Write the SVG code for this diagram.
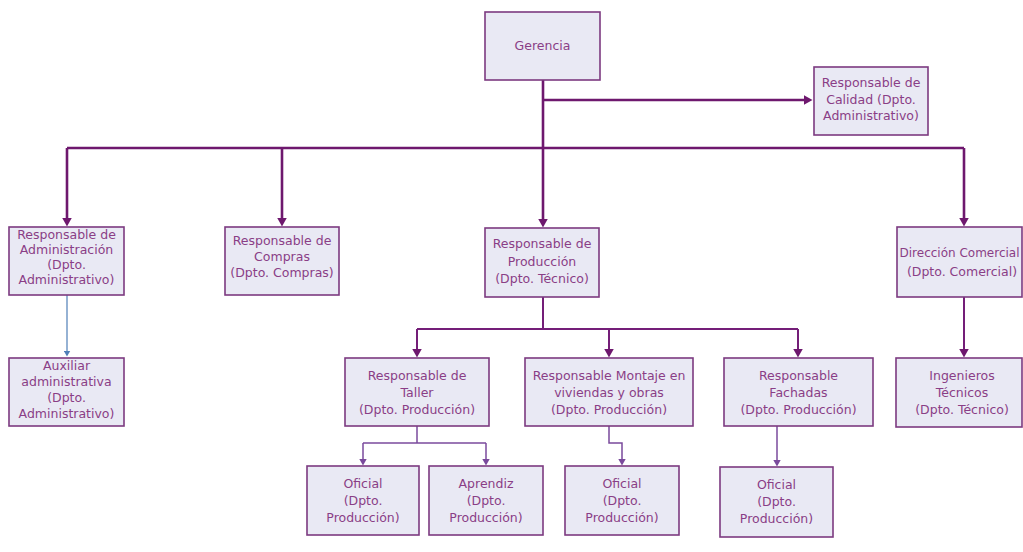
<svg xmlns="http://www.w3.org/2000/svg" width="1023" height="552" viewBox="0 0 1023 552">
  <defs>
    <style>
      .box { fill: #e9e9f4; stroke: #7c3a80; stroke-width: 1.6; }
      .lbl { font-family: "DejaVu Sans", Verdana, sans-serif; font-size: 12.5px; fill: #8a3e86; text-anchor: middle; }
      .c1 { fill: none; stroke: #6e186e; stroke-width: 2.6; }
      .c2 { fill: none; stroke: #741e78; stroke-width: 2; }
      .c3 { fill: none; stroke: #7a4a9c; stroke-width: 1.5; }
      .c4 { fill: none; stroke: #4f7fb8; stroke-width: 1.2; }
    </style>
    <!-- arrowheads: base sits at the path end, tip points forward -->
    <marker id="a1" viewBox="0 0 9 10" refX="0.5" refY="5" markerWidth="9" markerHeight="10" markerUnits="userSpaceOnUse" orient="auto">
      <path d="M0,0 L9,5 L0,10 z" fill="#6e186e"/>
    </marker>
    <marker id="a3" viewBox="0 0 7 8" refX="0.5" refY="4" markerWidth="7" markerHeight="8" markerUnits="userSpaceOnUse" orient="auto">
      <path d="M0,0 L7,4 L0,8 z" fill="#7a4a9c"/>
    </marker>
    <marker id="a4" viewBox="0 0 6 7" refX="0.5" refY="3.5" markerWidth="6" markerHeight="7" markerUnits="userSpaceOnUse" orient="auto">
      <path d="M0,0 L6,3.5 L0,7 z" fill="#4f7fb8"/>
    </marker>
  </defs>

  <rect width="1023" height="552" fill="#ffffff"/>

  <g id="connectors">
    <path class="c1" d="M543,80 V219" marker-end="url(#a1)"/>
    <path class="c1" d="M543,100 H804" marker-end="url(#a1)"/>
    <path class="c1" d="M67,148 H964"/>
    <path class="c1" d="M67,148 V218" marker-end="url(#a1)"/>
    <path class="c1" d="M282,148 V218" marker-end="url(#a1)"/>
    <path class="c1" d="M964,148 V218" marker-end="url(#a1)"/>
    <path class="c2" d="M543,297 V329"/>
    <path class="c2" d="M417,329 H798"/>
    <path class="c2" d="M417,329 V349" marker-end="url(#a1)"/>
    <path class="c2" d="M609,329 V349" marker-end="url(#a1)"/>
    <path class="c2" d="M798,329 V349" marker-end="url(#a1)"/>
    <path class="c2" d="M964,297 V349" marker-end="url(#a1)"/>
    <path class="c4" d="M67,295 V351" marker-end="url(#a4)"/>
    <path class="c3" d="M417,426 V443"/>
    <path class="c3" d="M363,443 H486"/>
    <path class="c3" d="M363,443 V459" marker-end="url(#a3)"/>
    <path class="c3" d="M486,443 V459" marker-end="url(#a3)"/>
    <path class="c3" d="M609,426 V443 H622 V459" marker-end="url(#a3)"/>
    <path class="c3" d="M777,426 V460" marker-end="url(#a3)"/>
  </g>

  <g id="gerencia">
    <rect class="box" x="485" y="12" width="115" height="68"/>
    <text class="lbl" x="542.5" y="50">Gerencia</text>
  </g>

  <g id="calidad">
    <rect class="box" x="814" y="67" width="114" height="68"/>
    <text class="lbl" x="871" y="87">Responsable de</text>
    <text class="lbl" x="871" y="103.5">Calidad (Dpto.</text>
    <text class="lbl" x="871" y="120">Administrativo)</text>
  </g>

  <g id="administracion">
    <rect class="box" x="9" y="227" width="115" height="68"/>
    <text class="lbl" x="66.5" y="238.5">Responsable de</text>
    <text class="lbl" x="66.5" y="253.5">Administración</text>
    <text class="lbl" x="66.5" y="268.5">(Dpto.</text>
    <text class="lbl" x="66.5" y="283.5">Administrativo)</text>
  </g>

  <g id="compras">
    <rect class="box" x="225" y="227" width="114" height="68"/>
    <text class="lbl" x="282" y="245">Responsable de</text>
    <text class="lbl" x="282" y="261">Compras</text>
    <text class="lbl" x="282" y="277">(Dpto. Compras)</text>
  </g>

  <g id="produccion">
    <rect class="box" x="485" y="228" width="114" height="69"/>
    <text class="lbl" x="542" y="248">Responsable de</text>
    <text class="lbl" x="542" y="265.5">Producción</text>
    <text class="lbl" x="542" y="283">(Dpto. Técnico)</text>
  </g>

  <g id="direccion-comercial">
    <rect class="box" x="897" y="227" width="125" height="70"/>
    <text class="lbl" x="959.5" y="256.5" style="font-size:12px">Dirección Comercial</text>
    <text class="lbl" x="962" y="276">(Dpto. Comercial)</text>
  </g>

  <g id="auxiliar">
    <rect class="box" x="9" y="358" width="115" height="68"/>
    <text class="lbl" x="66.5" y="369.5">Auxiliar</text>
    <text class="lbl" x="66.5" y="385.5">administrativa</text>
    <text class="lbl" x="66.5" y="401.5">(Dpto.</text>
    <text class="lbl" x="66.5" y="417.5">Administrativo)</text>
  </g>

  <g id="taller">
    <rect class="box" x="345" y="358" width="144" height="68"/>
    <text class="lbl" x="417" y="379.5">Responsable de</text>
    <text class="lbl" x="417" y="396.5">Taller</text>
    <text class="lbl" x="417" y="413.5">(Dpto. Producción)</text>
  </g>

  <g id="montaje">
    <rect class="box" x="525" y="358" width="168" height="68"/>
    <text class="lbl" x="609" y="379.5">Responsable Montaje en</text>
    <text class="lbl" x="609" y="396.5">viviendas y obras</text>
    <text class="lbl" x="609" y="413.5">(Dpto. Producción)</text>
  </g>

  <g id="fachadas">
    <rect class="box" x="724" y="358" width="149" height="68"/>
    <text class="lbl" x="798.5" y="379.5">Responsable</text>
    <text class="lbl" x="798.5" y="396.5">Fachadas</text>
    <text class="lbl" x="798.5" y="413.5">(Dpto. Producción)</text>
  </g>

  <g id="ingenieros">
    <rect class="box" x="896" y="358" width="126" height="69"/>
    <text class="lbl" x="962" y="379.5">Ingenieros</text>
    <text class="lbl" x="962" y="396.5">Técnicos</text>
    <text class="lbl" x="962" y="413.5">(Dpto. Técnico)</text>
  </g>

  <g id="oficial-taller">
    <rect class="box" x="307" y="466" width="112" height="69"/>
    <text class="lbl" x="363" y="487.5">Oficial</text>
    <text class="lbl" x="363" y="504.5">(Dpto.</text>
    <text class="lbl" x="363" y="521.5">Producción)</text>
  </g>

  <g id="aprendiz">
    <rect class="box" x="429" y="466" width="114" height="69"/>
    <text class="lbl" x="486" y="487.5">Aprendiz</text>
    <text class="lbl" x="486" y="504.5">(Dpto.</text>
    <text class="lbl" x="486" y="521.5">Producción)</text>
  </g>

  <g id="oficial-montaje">
    <rect class="box" x="565" y="466" width="114" height="69"/>
    <text class="lbl" x="622" y="487.5">Oficial</text>
    <text class="lbl" x="622" y="504.5">(Dpto.</text>
    <text class="lbl" x="622" y="521.5">Producción)</text>
  </g>

  <g id="oficial-fachadas">
    <rect class="box" x="720" y="467" width="113" height="70"/>
    <text class="lbl" x="776.5" y="489">Oficial</text>
    <text class="lbl" x="776.5" y="506">(Dpto.</text>
    <text class="lbl" x="776.5" y="523">Producción)</text>
  </g>
</svg>
